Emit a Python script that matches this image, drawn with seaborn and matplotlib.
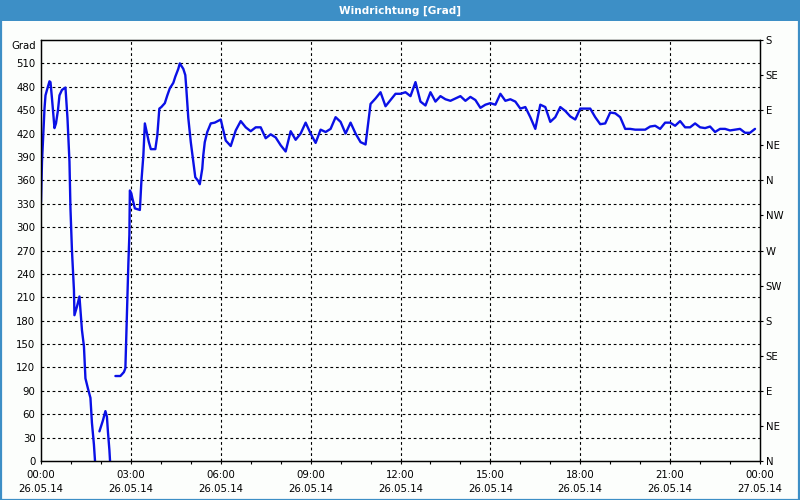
import numpy as np
import pandas as pd
import matplotlib
matplotlib.use("Agg")
import matplotlib.pyplot as plt
from matplotlib.patches import Rectangle
import seaborn as sns

# ---------------- data ----------------
# segment A (00:00 - 01:49), wraps below 0 afterwards
seg_a_times = ["00:00", "00:02", "00:04", "00:07", "00:09", "00:12", "00:17", "00:19",
               "00:22", "00:27", "00:30", "00:34", "00:37", "00:42", "00:49", "00:53",
               "00:57", "00:59", "01:02", "01:06", "01:07", "01:12", "01:17", "01:22",
               "01:26", "01:29", "01:34", "01:39", "01:42", "01:46", "01:49"]
seg_a_vals = [332, 384, 411, 452, 469, 476, 487, 486,
              465, 427, 433, 450, 469, 476, 479, 440,
              384, 324, 270, 219, 187, 198, 211, 168,
              147, 106, 93, 81, 49, 21, -8]

# segment B (01:57 - 02:19)
seg_b_times = ["01:57", "02:04", "02:09", "02:12", "02:14", "02:17", "02:19"]
seg_b_vals = [38, 52, 64, 57, 38, 14, -8]

# segment C (02:29 - 05:57)
seg_c_times = ["02:29", "02:39", "02:46", "02:49", "02:51", "02:53", "02:55", "02:57",
               "02:58", "03:01", "03:03", "03:08", "03:18", "03:21", "03:25", "03:28",
               "03:31", "03:36", "03:40", "03:49", "03:53", "03:57", "04:01", "04:08",
               "04:13", "04:18", "04:25", "04:29", "04:35", "04:38", "04:45", "04:49",
               "04:51", "04:55", "05:00", "05:05", "05:09", "05:15", "05:18", "05:23",
               "05:25", "05:28", "05:33", "05:40", "05:48", "05:57"]
seg_c_vals = [109, 109, 114, 119, 164, 211, 254, 290,
              347, 343, 337, 324, 322, 358, 392, 433,
              424, 409, 400, 400, 418, 452, 454, 459,
              469, 478, 485, 493, 503, 510, 503, 495,
              478, 440, 409, 384, 364, 359, 355, 375,
              392, 409, 422, 433, 434, 437]

# 10-minute values from 06:00 to 23:50
day_start = "06:00"
day_vals = [438, 411, 404, 424, 436, 428,   # 06
            423, 428, 428, 414, 419, 415,   # 07
            405, 397, 423, 412, 420, 434,   # 08
            420, 408, 425, 422, 426, 441,   # 09
            435, 420, 434, 420, 409, 406,   # 10
            458, 465, 473, 455, 463, 471,   # 11
            471, 473, 468, 486, 461, 456,   # 12
            473, 461, 468, 464, 462, 465,   # 13
            468, 462, 467, 463, 453, 457,   # 14
            459, 457, 471, 462, 464, 461,   # 15
            452, 454, 441, 426, 457, 454,   # 16
            435, 441, 454, 449, 442, 438,   # 17
            452, 452, 452, 441, 432, 433,   # 18
            447, 446, 441, 426, 426, 425,   # 19
            425, 425, 429, 430, 426, 434,   # 20
            434, 430, 436, 428, 428, 433,   # 21
            428, 427, 429, 422, 426, 426,   # 22
            424, 425, 426, 421, 421, 426]   # 23

x_tick_labels = ["00:00\n26.05.14", "03:00\n26.05.14", "06:00\n26.05.14",
                 "09:00\n26.05.14", "12:00\n26.05.14", "15:00\n26.05.14",
                 "18:00\n26.05.14", "21:00\n26.05.14", "00:00\n27.05.14"]
left_ticks = list(range(0, 511, 30))
compass_labels = ["N", "NE", "E", "SE", "S", "SW", "W", "NW",
                  "N", "NE", "E", "SE", "S"]

# ---------------- build table ----------------
def to_hours(t):
    h, m = t.split(":")
    return int(h) + int(m) / 60.0

day_times = pd.date_range("2014-05-26 " + day_start, periods=len(day_vals), freq="10min")
day_hours = [d.hour + d.minute / 60.0 for d in day_times]

frames = [
    pd.DataFrame({"h": [to_hours(t) for t in seg_a_times], "v": seg_a_vals, "seg": 0}),
    pd.DataFrame({"h": [to_hours(t) for t in seg_b_times], "v": seg_b_vals, "seg": 1}),
    pd.DataFrame({"h": [to_hours(t) for t in seg_c_times] + day_hours,
                  "v": seg_c_vals + day_vals, "seg": 2}),
]
df = pd.concat(frames, ignore_index=True)

# ---------------- figure ----------------
sns.set_theme(style="white")
plt.rcParams["font.family"] = ["DejaVu Sans"]
FS = 7.3
border = "#3D8FC6"
inner = "#FCFEFC"

fig = plt.figure(figsize=(8, 5), dpi=100)
fig.patch.set_facecolor(inner)
fig.patches.append(Rectangle((0, 1 - 21 / 500), 1, 21 / 500, transform=fig.transFigure,
                             facecolor=border, edgecolor="none", zorder=0))
fig.patches.append(Rectangle((0.5 / 800, 0.5 / 500), 1 - 1.5 / 800, 1 - 1.5 / 500,
                             transform=fig.transFigure, fill=False,
                             edgecolor=border, lw=1.6, zorder=0))
fig.text(0.5, 1 - 10.5 / 500, "Windrichtung [Grad]", color="white", ha="center",
         va="center", fontsize=FS + 0.3, fontweight="bold")

L, R, T, B = 41, 760, 40, 461
ax = fig.add_axes([L / 800, (500 - B) / 500, (R - L) / 800, (B - T) / 500])
ax.set_facecolor(inner)

sns.lineplot(data=df, x="h", y="v", units="seg", estimator=None, ax=ax,
             color="#0A10E6", lw=1.7, legend=False, sort=False)

ax.set_xlim(0, 24)
ax.set_ylim(0, 540)
ax.set_xlabel("")
ax.set_ylabel("")

ax.set_xticks(np.arange(0, 25, 3))
ax.set_xticklabels(x_tick_labels, fontsize=FS, linespacing=1.55)
ax.set_xticks(np.arange(0, 25, 1), minor=True)
ax.set_yticks(left_ticks)
ax.set_yticklabels([str(v) for v in left_ticks], fontsize=FS)

ax.tick_params(axis="x", which="both", direction="out", length=2.5, width=0.8,
               color="black", pad=4, bottom=True, labelcolor="black")
ax.tick_params(axis="y", which="both", length=0, pad=4, left=True, labelcolor="black")

for s in ax.spines.values():
    s.set_color("black")
    s.set_linewidth(0.9)
    s.set_visible(True)

ax.grid(False)
for h in np.arange(3, 24, 3):
    ax.axvline(h, color="black", lw=0.8, ls=(0, (2.5, 2.5)), zorder=0.5)
for v in left_ticks[1:]:
    ax.axhline(v, color="black", lw=0.8, ls=(0, (2.5, 2.5)), zorder=0.5)

ax.annotate("Grad", xy=(0, 540), xycoords=("axes fraction", "data"),
            xytext=(-3.5, -4.5), textcoords="offset points", ha="right", va="center",
            fontsize=FS, color="black")

ax2 = ax.twinx()
ax2.set_ylim(0, 540)
ax2.set_yticks(np.arange(0, 541, 45))
ax2.set_yticklabels(compass_labels, fontsize=FS)
ax2.tick_params(axis="y", direction="out", length=2.5, width=0.8, pad=1.5,
                right=True, color="black", labelcolor="black")
ax2.grid(False)
for s in ax2.spines.values():
    s.set_color("black")
    s.set_linewidth(0.9)

fig.savefig("out.png", dpi=100, facecolor=fig.get_facecolor())
